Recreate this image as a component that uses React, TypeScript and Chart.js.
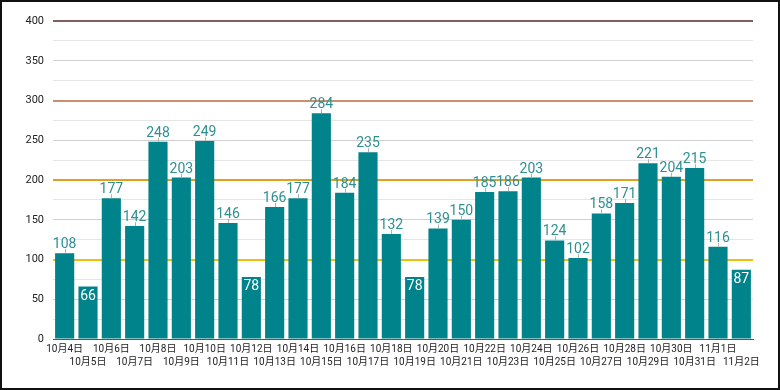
import React, { useEffect, useRef } from "react";
import { Chart, registerables } from "chart.js";

Chart.register(...registerables);

const categories = [
  "10月4日", "10月5日", "10月6日", "10月7日", "10月8日", "10月9日", "10月10日", "10月11日",
  "10月12日", "10月13日", "10月14日", "10月15日", "10月16日", "10月17日", "10月18日", "10月19日",
  "10月20日", "10月21日", "10月22日", "10月23日", "10月24日", "10月25日", "10月26日", "10月27日",
  "10月28日", "10月29日", "10月30日", "10月31日", "11月1日", "11月2日",
];
const values = [
  108, 66, 177, 142, 248, 203, 249, 146, 78, 166, 177, 284, 184, 235, 132, 78,
  139, 150, 185, 186, 203, 124, 102, 158, 171, 221, 204, 215, 116, 87,
];
const refLines = [
  { value: 400, color: "#7f5f5f" },
  { value: 300, color: "#c8906e" },
  { value: 200, color: "#e0a020" },
  { value: 100, color: "#f0c010" },
];

const BAR = "#00838a";
const LABEL = "#2f8f91";

const labelPlugin = {
  id: "valueLabels",
  afterDatasetsDraw(chart: any) {
    const ctx = chart.ctx;
    const meta = chart.getDatasetMeta(0);
    ctx.save();
    ctx.font = "14px Roboto";
    ctx.textAlign = "center";
    meta.data.forEach((bar: any, i: number) => {
      const v = values[i];
      const x = bar.x;
      const y = bar.y;
      if (v < 95) {
        ctx.fillStyle = "#ffffff";
        ctx.textBaseline = "top";
        ctx.fillText(String(v), x, y + 3);
      } else {
        ctx.strokeStyle = "#b0b0b0";
        ctx.lineWidth = 1;
        ctx.beginPath();
        ctx.moveTo(Math.round(x) + 0.5, y);
        ctx.lineTo(Math.round(x) + 0.5, y - 4);
        ctx.stroke();
        ctx.fillStyle = LABEL;
        ctx.textBaseline = "alphabetic";
        ctx.fillText(String(v), x, y - 5);
      }
    });
    ctx.restore();
  },
};

export default function App() {
  const ref = useRef<HTMLCanvasElement>(null);
  useEffect(() => {
    document.body.style.margin = "0";
    const chart = new Chart(ref.current!, {
      type: "bar",
      data: {
        labels: categories,
        datasets: [
          {
            data: values,
            backgroundColor: BAR,
            barPercentage: 0.82,
            categoryPercentage: 1,
          },
        ],
      },
      options: {
        animation: false,
        responsive: false,
        maintainAspectRatio: false,
        layout: { padding: { top: 21, right: 27, left: 0, bottom: 0 } },
        plugins: { legend: { display: false }, tooltip: { enabled: false } },
        scales: {
          x: {
            afterFit: (s: any) => {
              s.height = 51;
            },
            grid: { display: false, drawTicks: false },
            border: { color: "#555555", width: 1 },
            ticks: {
              autoSkip: false,
              maxRotation: 0,
              minRotation: 0,
              padding: 4,
              color: "#222222",
              font: { size: 10, family: "Roboto, 'Noto Sans CJK JP'", lineHeight: 1.3 },
              callback: (_v: any, i: number) =>
                i % 2 === 0 ? [categories[i], ""] : ["", categories[i]],
            },
          },
          y: {
            min: 0,
            max: 400,
            afterFit: (s: any) => {
              s.width = 53;
            },
            border: { display: false },
            grid: {
              drawTicks: false,
              color: (c: any) => {
                const r = refLines.find((l) => l.value === c.tick.value);
                return r ? r.color : c.tick.value % 50 === 0 ? "#d0d0d0" : "#e6e6e6";
              },
              lineWidth: (c: any) =>
                refLines.find((l) => l.value === c.tick.value) ? 2 : 1,
            },
            ticks: {
              stepSize: 25,
              padding: 9,
              color: "#222222",
              font: { size: 11, family: "Roboto" },
              callback: (v: any) => (Number(v) % 50 === 0 ? String(v) : ""),
            },
          },
        },
      },
      plugins: [labelPlugin],
    });
    return () => chart.destroy();
  }, []);
  return (
    <div style={{ position: "fixed", left: 0, top: 0, width: 780, height: 390, background: "#fff" }}>
      <canvas ref={ref} width={780} height={390} style={{ position: "absolute", left: 0, top: 0 }} />
      <div
        style={{
          position: "absolute",
          left: 0,
          top: 0,
          width: 780,
          height: 390,
          boxSizing: "border-box",
          border: "2px solid #111",
          pointerEvents: "none",
        }}
      />
    </div>
  );
}
